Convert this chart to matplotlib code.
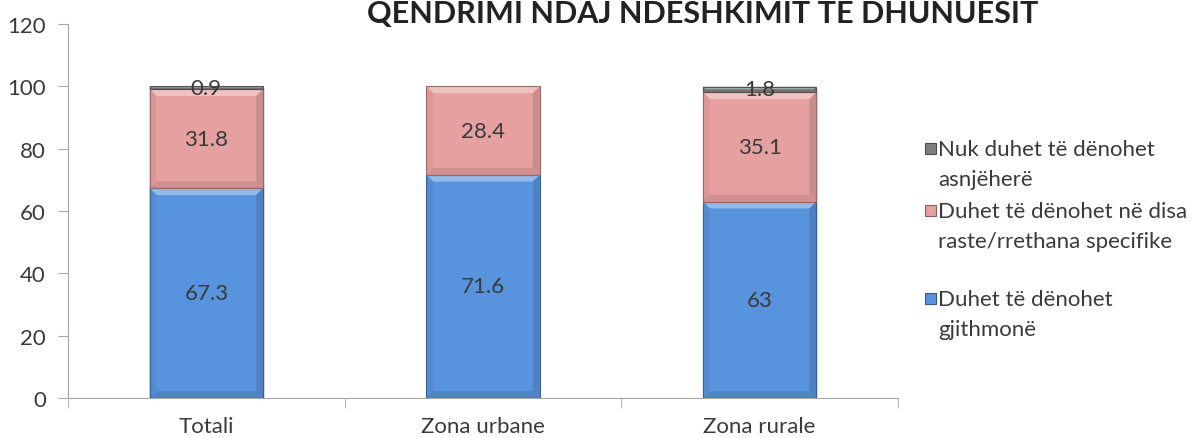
import matplotlib.pyplot as plt
from matplotlib.patches import Polygon, Rectangle
import matplotlib.colors as mcolors

categories = ["Totali", "Zona urbane", "Zona rurale"]
gjithmone = [67.3, 71.6, 63]
disa_raste = [31.8, 28.4, 35.1]
asnjehere = [0.9, 0, 1.8]

series_labels = ["Duhet të dënohet\ngjithmonë",
                 "Duhet të dënohet në disa\nraste/rrethana specifike",
                 "Nuk duhet të dënohet\nasnjëherë"]
series_colors = ["#5893DD", "#E6A09F", "#7F7F7F"]

title = "QENDRIMI NDAJ NDESHKIMIT TE DHUNUESIT"
yticks = [0, 20, 40, 60, 80, 100, 120]

plt.rcParams['font.family'] = ['Lato', 'DejaVu Sans']
txt = "#3A3A3A"
fs = 16


def shade(color, f):
    r, g, b = mcolors.to_rgb(color)
    if f > 1:
        return (r + (1 - r) * (f - 1), g + (1 - g) * (f - 1), b + (1 - b) * (f - 1))
    return (r * f, g * f, b * f)


def bevel_bar(ax, x, bottom, height, width, color):
    if height <= 0:
        return
    x0, x1 = x - width / 2, x + width / 2
    y0, y1 = bottom, bottom + height
    # soft shadow
    ax.add_patch(Rectangle((x0 + 0.006, y0 - 0.6), width, height, facecolor="#000000",
                           alpha=0.12, edgecolor="none", zorder=1))
    ax.add_patch(Rectangle((x0, y0), width, height, facecolor=color,
                           edgecolor="none", zorder=2))
    bx = 0.025
    by = min(2.2, height / 2)
    bxx = bx * by / 2.2
    top = [(x0, y1), (x1, y1), (x1 - bxx, y1 - by), (x0 + bxx, y1 - by)]
    bot = [(x0, y0), (x1, y0), (x1 - bxx, y0 + by), (x0 + bxx, y0 + by)]
    left = [(x0, y0), (x0, y1), (x0 + bxx, y1 - by), (x0 + bxx, y0 + by)]
    right = [(x1, y0), (x1, y1), (x1 - bxx, y1 - by), (x1 - bxx, y0 + by)]
    ax.add_patch(Polygon(top, closed=True, facecolor=shade(color, 1.35), edgecolor="none", zorder=3))
    ax.add_patch(Polygon(bot, closed=True, facecolor=shade(color, 0.9), edgecolor="none", zorder=3))
    ax.add_patch(Polygon(left, closed=True, facecolor=shade(color, 0.95), edgecolor="none", zorder=3))
    ax.add_patch(Polygon(right, closed=True, facecolor=shade(color, 0.88), edgecolor="none", zorder=3))
    ax.add_patch(Rectangle((x0, y0), width, height, facecolor="none",
                           edgecolor=shade(color, 0.65), linewidth=0.8, zorder=4))


fig = plt.figure(figsize=(11.98, 4.39), dpi=100)
ax = fig.add_axes([68 / 1198, 1 - 399 / 439, (898 - 68) / 1198, (399 - 25) / 439])

xs = list(range(len(categories)))
bar_w = 0.41
bottoms = [0] * len(categories)
for vals, col in zip([gjithmone, disa_raste, asnjehere], series_colors):
    for i, v in enumerate(vals):
        bevel_bar(ax, xs[i], bottoms[i], v, bar_w, col)
        if v > 0:
            ax.text(xs[i], bottoms[i] + v / 2, f"{v:g}", ha='center', va='center',
                    fontsize=fs, color=txt, zorder=5)
        bottoms[i] += v

ax.set_xlim(-0.5, len(categories) - 0.5)
ax.set_ylim(0, 120)
ax.set_yticks(yticks)
ax.set_xticks(xs)
ax.set_xticklabels(categories)
ax.set_xticks([i - 0.5 for i in range(len(categories) + 1)], minor=True)
ax.tick_params(axis='x', which='major', length=0, pad=13, labelsize=fs, labelcolor=txt)
ax.tick_params(axis='x', which='minor', length=7, color="#A6A6A6")
ax.tick_params(axis='y', length=7, color="#A6A6A6", labelsize=fs, labelcolor=txt, pad=9)
for s in ['top', 'right']:
    ax.spines[s].set_visible(False)
for s in ['left', 'bottom']:
    ax.spines[s].set_color("#A6A6A6")

fig.text(703 / 1198, 1 - 23 / 439, title, ha='center', va='baseline',
         fontsize=22, fontweight='bold', color="#222222")

# legend, drawn by hand to keep the uneven spacing
leg_rows = [(150, 2), (212, 1), (300, 0)]
for ypix, k in leg_rows:
    yf = 1 - ypix / 439
    sq = Rectangle((925 / 1198, yf - 5 / 439), 11 / 1198, 11 / 439, transform=fig.transFigure,
                   facecolor=series_colors[k], edgecolor=shade(series_colors[k], 0.6),
                   linewidth=0.8)
    fig.patches.append(sq)
    fig.text(938 / 1198, yf + 10 / 439, series_labels[k], ha='left', va='top',
             fontsize=fs, color=txt, linespacing=1.6)

fig.savefig("out.png", dpi=100)
